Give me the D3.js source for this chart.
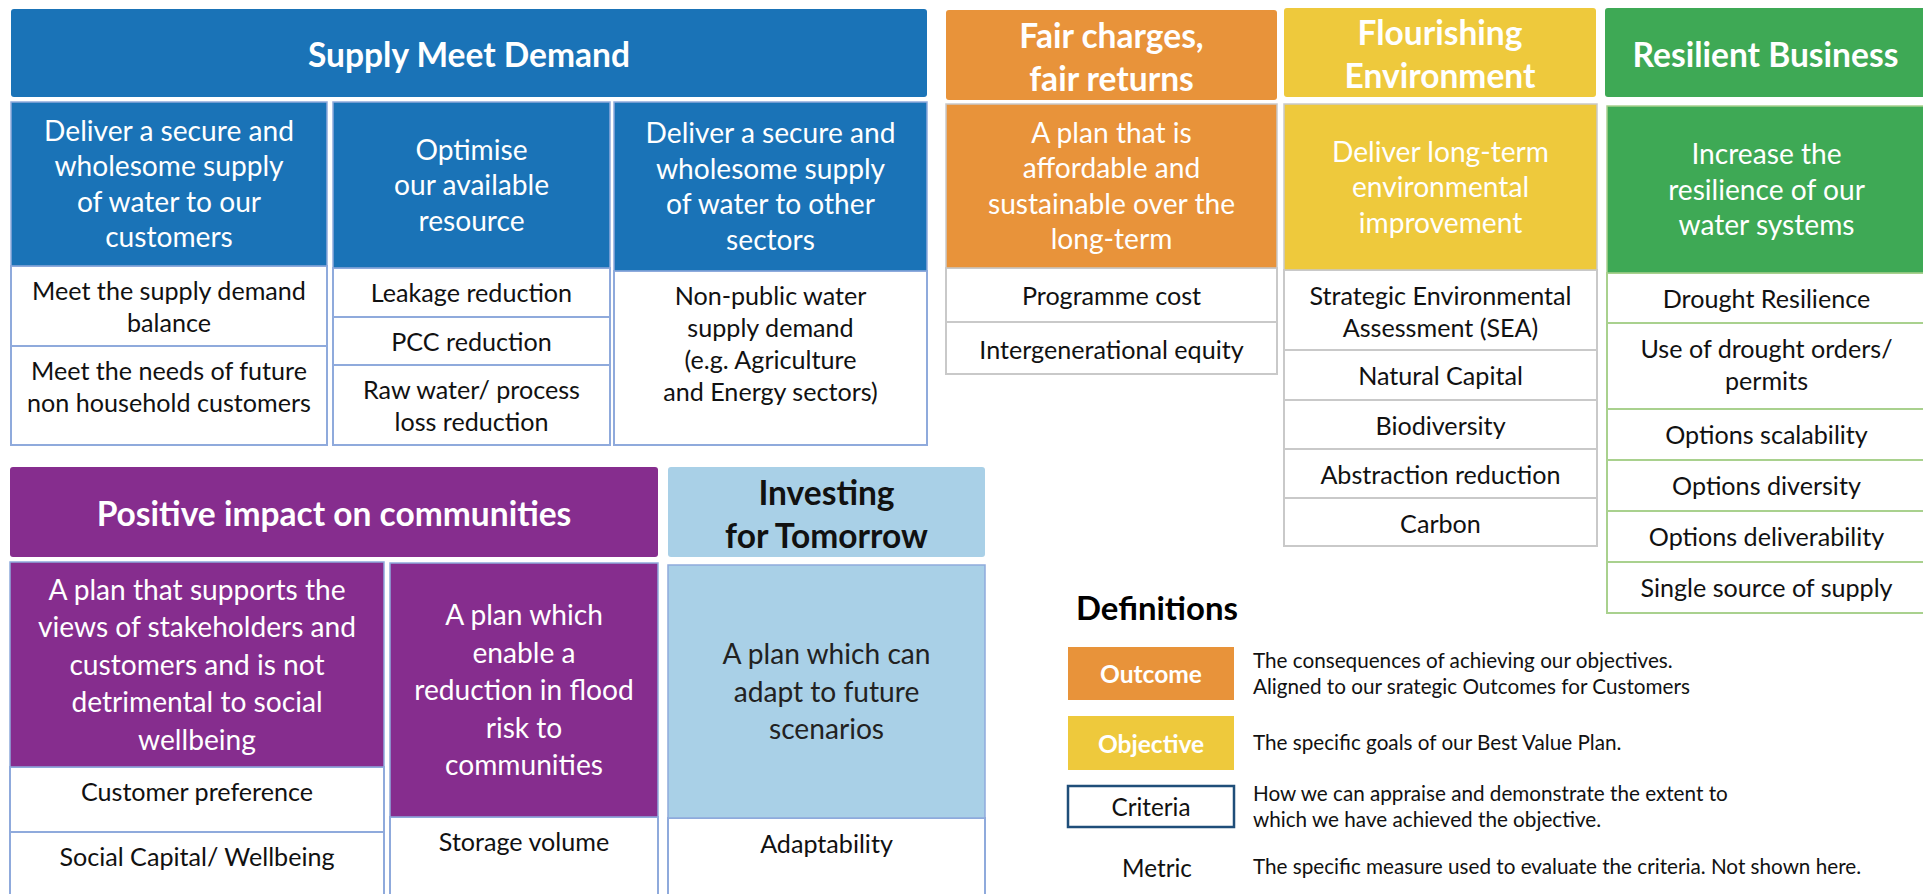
<!DOCTYPE html>
<html>
<head>
<meta charset="utf-8">
<script src="https://cdn.jsdelivr.net/npm/d3@7"></script>
<style>
  html, body { margin: 0; padding: 0; background: #fff; }
  svg { display: block; }
</style>
</head>
<body>
<div id="chart"></div>
<script>
// ---- content ----
const outcomeTitles = [
    "Supply Meet Demand",
    "Fair charges,\nfair returns",
    "Flourishing\nEnvironment",
    "Resilient Business",
    "Positive impact on communities",
    "Investing\nfor Tomorrow"
];

const objectiveTexts = [
    ["Deliver a secure and\nwholesome supply\nof water to our\ncustomers",
     "Optimise\nour available\nresource",
     "Deliver a secure and\nwholesome supply\nof water to other\nsectors"],
    ["A plan that is\naffordable and\nsustainable over the\nlong-term"],
    ["Deliver long-term\nenvironmental\nimprovement"],
    ["Increase the\nresilience of our\nwater systems"],
    ["A plan that supports the\nviews of stakeholders and\ncustomers and is not\ndetrimental to social\nwellbeing",
     "A plan which\nenable a\nreduction in flood\nrisk to\ncommunities"],
    ["A plan which can\nadapt to future\nscenarios"]
];

const criteriaTexts = [
    [["Meet the supply demand\nbalance", "Meet the needs of future\nnon household customers"],
     ["Leakage reduction", "PCC reduction", "Raw water/ process\nloss reduction"],
     ["Non-public water\nsupply demand\n(e.g. Agriculture\nand Energy sectors)"]],
    [["Programme cost", "Intergenerational equity"]],
    [["Strategic Environmental\nAssessment (SEA)", "Natural Capital", "Biodiversity", "Abstraction reduction", "Carbon"]],
    [["Drought Resilience", "Use of drought orders/\npermits", "Options scalability", "Options diversity", "Options deliverability", "Single source of supply"]],
    [["Customer preference", "Social Capital/ Wellbeing"], ["Storage volume"]],
    [["Adaptability"]]
];

const legendTitle = "Definitions";
const legendLabels = ["Outcome", "Objective", "Criteria", "Metric"];
const legendTexts = [
    "The consequences of achieving our objectives.\nAligned to our srategic Outcomes for Customers",
    "The specific goals of our Best Value Plan.",
    "How we can appraise and demonstrate the extent to\nwhich we have achieved the objective.",
    "The specific measure used to evaluate the criteria. Not shown here."
];

// ---- styles ----
const fills   = ["#1a73b7", "#e8933a", "#eec93c", "#3ea955", "#862d8e", "#a9d0e7"];
const borders = ["#8faadc", "#c9c9c9", "#c9c9c9", "#a9d18e", "#8faadc", "#8faadc"];
const inks    = ["#fff", "#fff", "#fff", "#fff", "#fff", "#111"];
const FONT = "Lato, 'Open Sans', sans-serif";

// ---- layout (pixel geometry of the boxes) ----
const layout = [
    { header: [11, 927, 9, 97],
      cols: [[11, 327], [333, 610], [614, 927]],
      objTop: [102, 102, 102],
      rows: [[266, 346, 445], [268, 317, 365, 445], [271, 445]], pad: 24 },
    { header: [946, 1277, 10, 100], cols: [[946, 1277]], objTop: [104], rows: [[268, 322, 374]], pad: 27 },
    { header: [1284, 1596, 8, 97], cols: [[1284, 1597]], objTop: [104], rows: [[270, 350, 400, 449, 498, 546]], pad: 25 },
    { header: [1605, 1926, 8, 97], cols: [[1607, 1926]], objTop: [106], rows: [[273, 323, 409, 460, 511, 562, 613]], pad: 25 },
    { header: [10, 658, 467, 557],
      cols: [[10, 384], [390, 658]],
      objTop: [562, 563],
      rows: [[767, 832, 905], [817, 905]], pad: 24 },
    { header: [668, 985, 467, 557], cols: [[668, 985]], objTop: [565], rows: [[818, 905]], pad: 25 }
];

const width = 1923, height = 894;

const svg = d3.select("#chart").append("svg")
    .attr("width", width)
    .attr("height", height);

svg.append("rect").attr("width", width).attr("height", height).attr("fill", "#fff");

// size a font so that a sample string has a target width
function fitSize(sample, target, weight) {
    let t = svg.append("text")
        .attr("font-family", FONT)
        .attr("font-weight", weight)
        .attr("font-size", 100)
        .text(sample);
    let w = t.node().getComputedTextLength();
    t.remove();
    return 100 * target / w;
}

const headerSize   = fitSize("Supply Meet Demand", 322, 700);
const objSize      = fitSize("Deliver a secure and", 250, 400);
const critSize     = fitSize("Meet the supply demand", 274, 400);
const defSize      = fitSize(legendTitle, 162, 700);
const legBoldSize  = fitSize("Outcome", 102, 700);
const legTextSize  = fitSize("The consequences of achieving our objectives.", 420, 400);
const legLabelSize = fitSize("Criteria", 79, 400);

// multi-line text, centred on cx, lines spaced by lh starting at y0 (centre of first line)
function lines(g, str, cx, y0, size, lh, color, weight) {
    let t = g.append("text")
        .attr("font-family", FONT)
        .attr("font-size", size)
        .attr("font-weight", weight)
        .attr("fill", color)
        .attr("text-anchor", "middle");
    str.split("\n").forEach((s, i) => {
        t.append("tspan")
            .attr("x", cx)
            .attr("y", y0 + i * lh)
            .attr("dominant-baseline", "central")
            .text(s);
    });
    return t;
}

function centred(g, str, cx, cy, size, lh, color, weight) {
    let n = str.split("\n").length;
    return lines(g, str, cx, cy - (n - 1) * lh / 2, size, lh, color, weight);
}

let groups = svg.selectAll("g.outcome")
    .data(outcomeTitles)
    .join("g")
    .attr("class", "outcome");

groups.each(function(title, gi) {
    let g = d3.select(this);
    let L = layout[gi];
    let [hx0, hx1, hy0, hy1] = L.header;

    // outcome header
    g.append("rect")
        .attr("x", hx0).attr("y", hy0)
        .attr("width", hx1 - hx0).attr("height", hy1 - hy0)
        .attr("rx", 3)
        .attr("fill", fills[gi]);
    centred(g, title, (hx0 + hx1) / 2, (hy0 + hy1) / 2 + 1, headerSize, 43, inks[gi], 700);

    let objLh = gi >= 4 ? 37.5 : 35.5;

    L.cols.forEach((c, ci) => {
        let [x0, x1] = c;
        let rows = L.rows[ci];
        let top = L.objTop[ci];

        // criteria boxes
        g.selectAll(null)
            .data(criteriaTexts[gi][ci])
            .join("rect")
            .attr("x", x0).attr("width", x1 - x0)
            .attr("y", (d, i) => rows[i])
            .attr("height", (d, i) => rows[i + 1] - rows[i])
            .attr("fill", "#fff")
            .attr("stroke", borders[gi])
            .attr("stroke-width", 2);
        criteriaTexts[gi][ci].forEach((txt, i) => {
            lines(g, txt, (x0 + x1) / 2, rows[i] + L.pad, critSize, 32, "#111", 400);
        });

        // objective box
        g.append("rect")
            .attr("x", x0).attr("y", top)
            .attr("width", x1 - x0).attr("height", rows[0] - top)
            .attr("fill", fills[gi])
            .attr("stroke", borders[gi])
            .attr("stroke-width", 1.5);
        centred(g, objectiveTexts[gi][ci], (x0 + x1) / 2, (top + rows[0]) / 2 - 1,
            objSize, objLh, inks[gi] === "#111" ? "#222" : "#fff", 400);
    });
});

// ---- definitions legend ----
let leg = svg.append("g").attr("class", "legend");
leg.append("text")
    .attr("x", 1076).attr("y", 620)
    .attr("font-family", FONT)
    .attr("font-weight", 700)
    .attr("font-size", defSize)
    .attr("fill", "#000")
    .text(legendTitle);

const legBoxes = [[647, 700], [716, 770], [786, 827], [848, 886]];
const legFills = [fills[1], fills[2], "#fff", "none"];
const legLabelX = [1151, 1151, 1151, 1157];

leg.selectAll("rect.key")
    .data(legendLabels.slice(0, 3))
    .join("rect")
    .attr("class", "key")
    .attr("x", 1068).attr("width", 166)
    .attr("y", (d, i) => legBoxes[i][0])
    .attr("height", (d, i) => legBoxes[i][1] - legBoxes[i][0])
    .attr("fill", (d, i) => legFills[i])
    .attr("stroke", (d, i) => i === 2 ? "#1f4e79" : "none")
    .attr("stroke-width", 2.5);

legendLabels.forEach((lab, i) => {
    let cy = (legBoxes[i][0] + legBoxes[i][1]) / 2;
    let bold = i < 2;
    centred(leg, lab, legLabelX[i], cy, bold ? legBoldSize : legLabelSize, 26,
        bold ? "#fff" : "#111", bold ? 700 : 400);
    let n = legendTexts[i].split("\n").length;
    let t = lines(leg, legendTexts[i], 0, cy - (n - 1) * 13 - 1, legTextSize, 26, "#111", 400);
    t.attr("text-anchor", "start").selectAll("tspan").attr("x", 1253);
});
</script>
</body>
</html>
